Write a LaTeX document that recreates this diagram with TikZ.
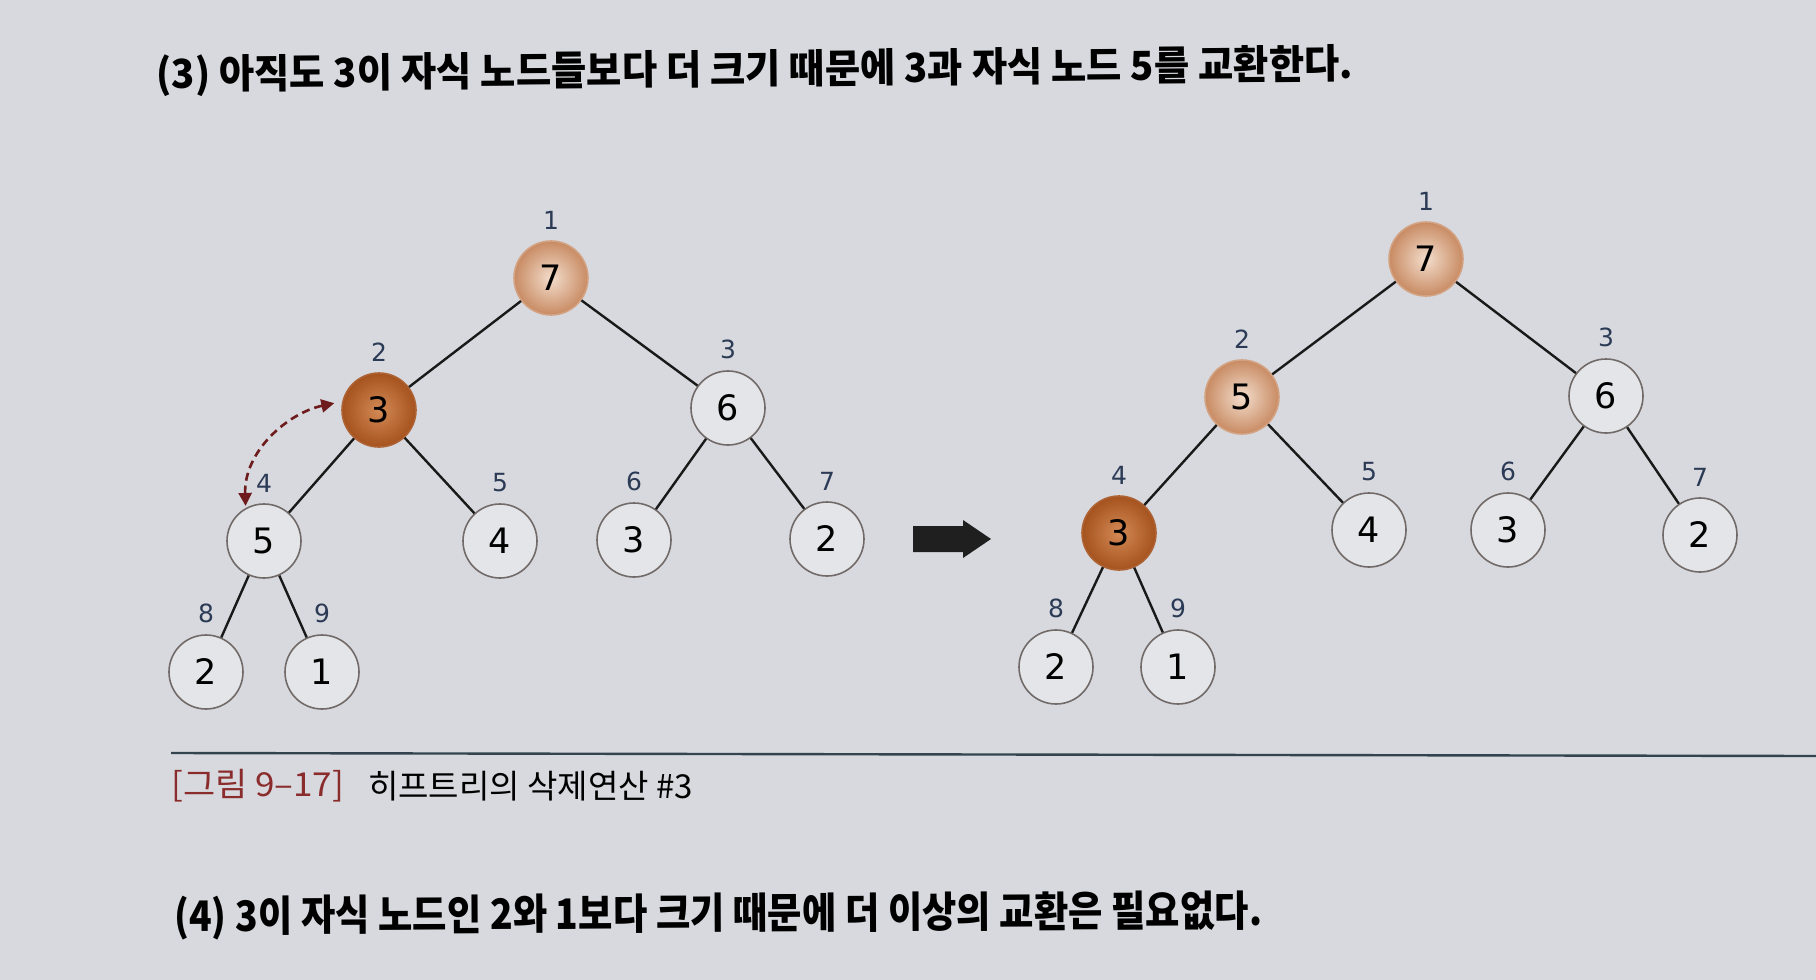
\documentclass[tikz,border=0pt]{standalone}
\usepackage{fontspec}
\usepackage{graphicx}
\newfontfamily\krfont{Noto Sans CJK KR}
\newfontfamily\numfont{DejaVu Sans}
\usetikzlibrary{arrows.meta,positioning}

\definecolor{paper}{HTML}{D7D9DE}
\definecolor{idxblue}{HTML}{2B3A55}
\definecolor{ringgray}{HTML}{726A68}
\definecolor{plainfill}{HTML}{E3E5E8}
\definecolor{peachin}{HTML}{F3DDCC}
\definecolor{peachout}{HTML}{C88B63}
\definecolor{rustin}{HTML}{D38A55}
\definecolor{rustout}{HTML}{A5521E}
\definecolor{swapred}{HTML}{6E1B1E}
\definecolor{capred}{HTML}{8A2C2C}
\definecolor{rulecol}{HTML}{34444F}

\begin{document}
\begin{tikzpicture}[x=1pt,y=1pt]
              \tikzstyle{every node}+=[inner sep=0pt]
              \tikzstyle{key}=[circle, minimum size=74pt, draw=ringgray, line width=1.6pt,
                fill=plainfill, font=\numfont\fontsize{35}{40}\selectfont]
              \tikzstyle{moved}=[key, draw=peachout!80, inner color=peachin, outer color=peachout]
              \tikzstyle{hot}=[key, draw=rustout!90, inner color=rustin, outer color=rustout]
              \tikzstyle{idx}=[text=idxblue, font=\numfont\fontsize{25}{28}\selectfont, label distance=11pt]
              \tikzstyle{branch}=[line width=2.4pt, black!90]
              \useasboundingbox (0,0) rectangle (1816,-980);
              \fill [paper] (0,0) rectangle (1816,-980);
              % heading
              \node [anchor=west, rotate=0.5] (head) at (156,-76)
                {\resizebox{1197pt}{\height}{\krfont\bfseries\fontsize{40}{48}\selectfont (3) 아직도 3이 자식 노드들보다 더 크기 때문에 3과 자식 노드 5를 교환한다.}};
              % left heap, before the swap
              \node [moved, label={[idx]above:1}] (l1) at (551,-278) {7};
              \node [hot, label={[idx]above:2}] (l2) at (379,-410) {3};
              \node [key, label={[idx]above:3}] (l3) at (728,-408) {6};
              \node [key, label={[idx]above:4}] (l4) at (264,-541) {5};
              \node [key, label={[idx]above:5}] (l5) at (500,-541) {4};
              \node [key, label={[idx]above:6}] (l6) at (634,-540) {3};
              \node [key, label={[idx]above:7}] (l7) at (827,-539) {2};
              \node [key, label={[idx]above:8}] (l8) at (206,-672) {2};
              \node [key, label={[idx]above:9}] (l9) at (322,-672) {1};
              \draw [branch] (l1) -- (l2);
              \draw [branch] (l1) -- (l3);
              \draw [branch] (l2) -- (l4);
              \draw [branch] (l2) -- (l5);
              \draw [branch] (l3) -- (l6);
              \draw [branch] (l3) -- (l7);
              \draw [branch] (l4) -- (l8);
              \draw [branch] (l4) -- (l9);
              \draw [swapred, line width=2.6pt, dash pattern=on 8pt off 5pt,
                {Triangle[length=13pt,width=13pt]}-{Triangle[length=13pt,width=13pt]},
                shorten <=2pt, shorten >=8pt] (l4.119) to[out=92,in=192] (l2.167);
              % big arrow
              \coordinate (go) at (913,-539);
              \fill [black!88] (go) ++(0,13) -- ++(50,0) -- ++(0,6) -- ++(28,-19) -- ++(-28,-19)
                -- ++(0,6) -- ++(-50,0) -- cycle;
              % right heap, after the swap
              \node [moved, label={[idx]above:1}] (r1) at (1426,-259) {7};
              \node [moved, label={[idx]above:2}] (r2) at (1242,-397) {5};
              \node [key, label={[idx]above:3}] (r3) at (1606,-396) {6};
              \node [hot, label={[idx]above:4}] (r4) at (1119,-533) {3};
              \node [key, label={[idx]above:5}] (r5) at (1369,-530) {4};
              \node [key, label={[idx]above:6}] (r6) at (1508,-530) {3};
              \node [key, label={[idx]above:7}] (r7) at (1700,-535) {2};
              \node [key, label={[idx]above:8}] (r8) at (1056,-667) {2};
              \node [key, label={[idx]above:9}] (r9) at (1178,-667) {1};
              \draw [branch] (r1) -- (r2);
              \draw [branch] (r1) -- (r3);
              \draw [branch] (r2) -- (r4);
              \draw [branch] (r2) -- (r5);
              \draw [branch] (r3) -- (r6);
              \draw [branch] (r3) -- (r7);
              \draw [branch] (r4) -- (r8);
              \draw [branch] (r4) -- (r9);
              % caption
              \coordinate (ruleL) at (171,-753);
              \coordinate (ruleR) at (1816,-756);
              \draw [rulecol, line width=2.4pt] (ruleL) -- (ruleR);
              \node [anchor=west, text=capred] (capnum) at (171,-786)
                {\resizebox{173pt}{\height}{\krfont\fontsize{33}{40}\selectfont [그림 9–17]}};
              \node [anchor=west] (captext) at (368,-786)
                {\resizebox{325pt}{\height}{\krfont\fontsize{33}{40}\selectfont 히프트리의 삭제연산 \#3}};
              % next step
              \node [anchor=west, rotate=0.3] (next) at (174,-918)
                {\resizebox{1088pt}{\height}{\krfont\bfseries\fontsize{42}{50}\selectfont (4) 3이 자식 노드인 2와 1보다 크기 때문에 더 이상의 교환은 필요없다.}};
            \end{tikzpicture}
\end{document}
